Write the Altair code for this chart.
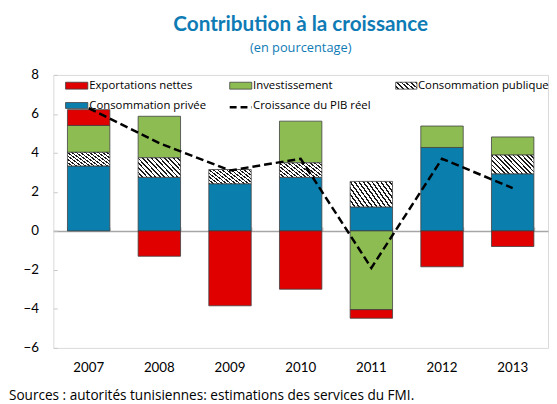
import altair as alt
import pandas as pd

years = ["2007", "2008", "2009", "2010", "2011", "2012", "2013"]
private_cons = [3.33, 2.75, 2.42, 2.75, 1.23, 4.28, 2.93]
public_cons = [0.70, 1.00, 0.73, 0.74, 1.31, 0.00, 0.96]
investment = [1.38, 2.13, 0.00, 2.14, -4.04, 1.10, 0.93]
net_exports = [0.81, -1.30, -3.84, -2.99, -0.44, -1.84, -0.80]
gdp_growth = [6.3, 4.5, 3.1, 3.7, -1.9, 3.7, 2.2]

cat_names = ["Consommation privée", "Consommation publique", "Investissement", "Exportations nettes"]
series = [private_cons, public_cons, investment, net_exports]
cat_colors = {"Consommation privée": "#0a7fae", "Investissement": "#8dbd52", "Exportations nettes": "#e00000"}

FONT = "Lato"
LFONT = "Open Sans"
TITLE_COLOR = "#0f7bb5"

# stack (positive up, negative down) in the order of the categories
rows = []
for i, y in enumerate(years):
    pos, neg = 0.0, 0.0
    for name, vals in zip(cat_names, series):
        v = vals[i]
        if v == 0:
            continue
        if v > 0:
            rows.append({"year": y, "cat": name, "y0": pos, "y1": pos + v})
            pos += v
        else:
            rows.append({"year": y, "cat": name, "y0": neg, "y1": neg + v})
            neg += v
stack_df = pd.DataFrame(rows)
main_df = stack_df[stack_df["cat"] != "Consommation publique"]
pub_df = stack_df[stack_df["cat"] == "Consommation publique"]
gdp_df = pd.DataFrame({"year": years, "gdp": gdp_growth})


def hatch(n, frac, x1, y1, x2, y2):
    stops = []
    for k in range(n):
        a, b, c = k / n, (k + frac) / n, (k + 1) / n
        stops += [
            alt.GradientStop(offset=a, color="#1a1a1a"),
            alt.GradientStop(offset=b, color="#1a1a1a"),
            alt.GradientStop(offset=b, color="#ffffff"),
            alt.GradientStop(offset=c, color="#ffffff"),
        ]
    return alt.LinearGradient(gradient="linear", stops=stops, x1=x1, y1=y1, x2=x2, y2=y2)


bar_hatch = hatch(16, 0.38, -0.2, 0.8, 1.2, 0.2)
leg_hatch = hatch(7, 0.4, -0.2, 0.75, 1.2, 0.25)

W, H = 502, 277
x_scale = alt.Scale(domain=years, paddingInner=0.4, paddingOuter=0.2)
y_scale = alt.Scale(domain=[-6, 8], nice=False, zero=False)
y_axis = alt.Axis(values=[-6, -4, -2, 0, 2, 4, 6, 8], title=None, grid=False, domain=False,
                  offset=-4, tickSize=4, tickColor="#c8c8c8", labelPadding=15,
                  labelFont=FONT, labelFontSize=13.5, labelColor="#000000")

bars = alt.Chart(main_df).mark_bar(stroke="#404040", strokeWidth=0.8).encode(
    x=alt.X("year:N", scale=x_scale, sort=years,
            axis=alt.Axis(orient="bottom", title=None, labelAngle=0, ticks=False, domain=False,
                          labelPadding=13, labelFont=FONT, labelFontSize=13.5,
                          labelColor="#000000")),
    y=alt.Y("y0:Q", scale=y_scale, axis=y_axis),
    y2="y1:Q",
    fill=alt.Fill("cat:N", legend=None,
                  scale=alt.Scale(domain=list(cat_colors.keys()), range=list(cat_colors.values()))),
)

pub_bars = alt.Chart(pub_df).mark_bar(stroke="#404040", strokeWidth=0.8, fill=bar_hatch).encode(
    x=alt.X("year:N", sort=years, axis=None),
    y=alt.Y("y0:Q", scale=y_scale, axis=y_axis),
    y2="y1:Q",
)

zero_px = H * 8 / 14
line = alt.Chart(gdp_df).mark_line(color="#000000", strokeWidth=2.5, strokeDash=[8, 4]).encode(
    x=alt.X("year:N", sort=years,
            axis=alt.Axis(orient="top", offset=-zero_px, labels=False, title=None,
                          domainColor="#a6a6a6", domainWidth=1.5, tickColor="#b4b4b4",
                          tickSize=4, tickBand="extent", tickWidth=1)),
    y=alt.Y("gdp:Q", scale=y_scale, axis=y_axis),
)

one = pd.DataFrame({"k": [0]})


def swatch(x1, x2, y1, y2, fill):
    return alt.Chart(one).mark_rect(fill=fill, stroke="#404040", strokeWidth=0.8).encode(
        x=alt.value(x1), x2=alt.value(x2), y=alt.value(y1), y2=alt.value(y2))


def label(x, y, txt):
    return alt.Chart(one).mark_text(text=txt, align="left", baseline="middle", font=LFONT,
                                    fontSize=11.5, color="#000000").encode(
        x=alt.value(x), y=alt.value(y))


legend_layers = [
    swatch(12.4, 35, 7.4, 14.4, cat_colors["Exportations nettes"]), label(36.5, 11, "Exportations nettes"),
    swatch(179, 201.4, 7.4, 14.4, cat_colors["Investissement"]), label(202.7, 11, "Investissement"),
    swatch(347.4, 369, 7.4, 14.4, leg_hatch), label(370, 11, "Consommation publique"),
    swatch(12.4, 35, 28, 34, cat_colors["Consommation privée"]), label(36.5, 32, "Consommation  privée"),
    alt.Chart(one).mark_rule(color="#000000", strokeWidth=2.5, strokeDash=[7, 4]).encode(
        x=alt.value(179), x2=alt.value(201.4), y=alt.value(32.7)),
    label(202.7, 32, "Croissance du PIB réel"),
]

source = alt.Chart(one).mark_text(
    text="Sources : autorités tunisiennes: estimations des services du FMI.",
    align="left", baseline="middle", font=LFONT, fontSize=13.8, color="#000000").encode(
    x=alt.value(-45), y=alt.value(326))

chart = alt.layer(bars, pub_bars, line, *legend_layers, source).resolve_axis(
    x="independent"
).properties(
    width=W, height=H,
    title=alt.TitleParams(
        text="Contribution à la croissance", subtitle="(en pourcentage)",
        font=FONT, fontSize=21, fontWeight="bold", color=TITLE_COLOR,
        subtitleFont=LFONT, subtitleFontSize=13, subtitleColor=TITLE_COLOR,
        subtitlePadding=8, anchor="middle", offset=13),
    autosize=alt.AutoSizeParams(type="none"),
    padding={"left": 46, "top": 65, "right": 1, "bottom": 54},
).configure_view(stroke="#d9d9d9", strokeWidth=1)

chart.save("out.html", embed_options={"renderer": "svg", "actions": False})
